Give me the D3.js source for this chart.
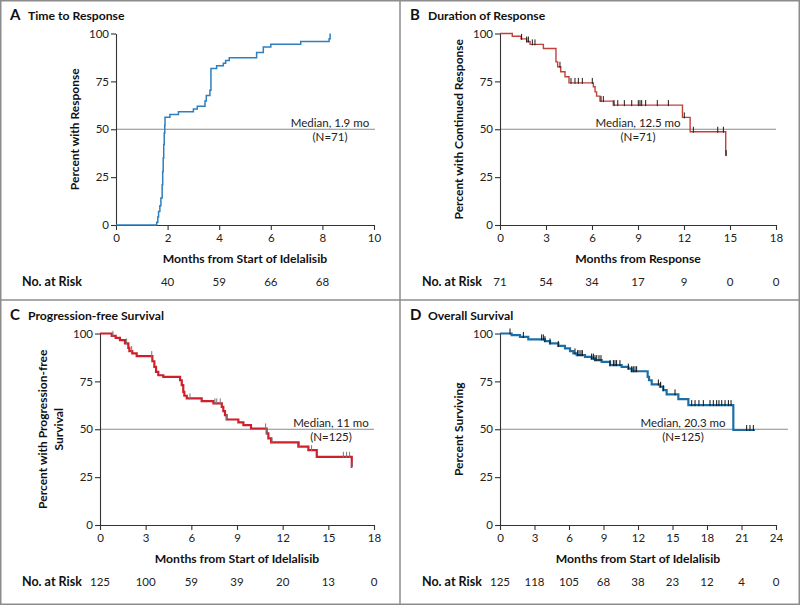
<!DOCTYPE html>
<html><head><meta charset="utf-8">
<script src="https://cdn.jsdelivr.net/npm/d3@7"></script>
<style>
body{margin:0;background:#fff;}
svg{display:block;font-family:Lato,"Open Sans",sans-serif;}
</style></head><body>
<svg id="c" width="800" height="605"></svg>
<script>
// ---------- DATA ----------
// Panel A: Time to Response (cumulative, step up)
const aTimes  = [0,1.58,1.62,1.65,1.70,1.74,1.79,1.81,1.83,1.85,1.87,1.89,1.90,2.09,2.42,3.00,3.15,3.45,3.50,3.64,3.68,3.90,4.16,4.25,4.39,5.45,5.71,6.00,7.16,8.26,8.30];
const aValues = [0,1.4,4.2,7,10,14.1,21,28,35,42,48,52,56.3,57.7,59.2,60.6,62,64.8,67.6,70.4,81.7,83.1,84.5,85.9,87.3,90.1,93,94.4,95.8,97.2,100];
const aEnd = 8.3;
const aCensor = [];
const aRiskTimes = [2,4,6,8];
const aRisk = [40,59,66,68];

// Panel B: Duration of Response
const bTimes  = [0,0.8,1.37,1.74,1.96,2.83,3.65,3.76,3.96,4.24,4.5,6.09,6.2,6.3,6.52,7.39,11.9,12.4,14.72];
const bValues = [100,98.6,97.2,95.8,94.3,92.2,85.2,82.6,80,77.4,74.2,72.2,69.5,67.3,64.7,62.6,56.2,48.7,36.5];
const bEnd = 14.75;
const bCensor = [1.41,1.74,1.85,2.11,2.28,3.91,4.63,4.89,5.11,5.37,6.02,6.59,6.74,7.44,7.68,8.11,8.59,9.02,9.13,9.24,9.5,10.26,10.98,12.02,12.61,14.2,14.57,14.75];
const bRiskTimes = [0,3,6,9,12,15,18];
const bRisk = [71,54,34,17,9,0,0];

// Panel C: Progression-free Survival
const cTimes  = [0,0.77,1.03,1.31,1.64,1.86,1.93,2.12,2.41,3.44,3.57,3.68,3.83,4.16,5.26,5.37,5.47,5.54,5.7,6.68,7.45,8.0,8.1,8.21,8.32,9.09,9.42,9.92,10.95,11.06,11.24,13.03,13.69,14.24,16.54];
const cValues = [100,98.8,97.7,96.5,94.8,92.5,90.8,89.6,88.2,85.5,82.6,80,78.2,77.4,75.6,73,69.5,67.5,66.1,64.7,63.5,61.7,59.5,57.4,55.1,53.6,52.2,50.4,47.8,45.2,43.1,40.9,39.1,35.6,30.4];
const cEnd = 16.56;
const cCensor = [0.85,1.75,2.08,3.4,5.91,7.55,7.67,7.9,8.32,10.88,10.95,11.3,13.1,13.9,15.99,16.2,16.4,16.56];
const cRiskTimes = [0,3,6,9,12,15,18];
const cRisk = [125,100,59,39,20,13,0];

// Panel D: Overall Survival
const dTimes  = [0,1.01,1.74,2.46,3.91,4.35,5.07,5.65,6.09,6.38,6.67,7.39,7.97,8.26,8.84,9.57,10.58,11.16,11.45,12.84,12.96,13.19,13.91,14.2,14.49,15.51,16.38,20.29];
const dValues = [100,99.1,98.2,96.9,96,94.8,93.5,92.2,90.8,89.6,88.7,87.8,86.9,86.1,85.2,83.5,82.6,81.7,80.3,77.4,75.6,73.4,72.2,70.4,68.2,65.7,62.6,49.6];
const dEnd = 22.17;
const dCensor = [0.87,2.03,3.62,3.77,3.91,4.35,5.07,6.52,6.75,6.87,7.04,7.16,7.97,8.12,8.26,8.41,8.61,8.78,9.57,9.86,10.0,10.14,10.43,11.16,11.45,11.59,11.74,11.88,13.77,13.97,14.2,15.22,16.67,16.96,17.3,17.68,18.26,18.55,18.84,19.04,19.28,19.57,19.86,20.09,21.45,21.74,22.03];
const dRiskTimes = [0,3,6,9,12,15,18,21,24];
const dRisk = [125,118,105,68,38,23,12,4,0];

const yTicks = [0,25,50,75,100];
const medianValue = 50;

// ---------- DRAW ----------
const svg = d3.select("#c");
svg.append("rect").attr("x",0.75).attr("y",0.75).attr("width",798.5).attr("height",603.5)
  .attr("fill","#fff").attr("stroke","#8c8c8c").attr("stroke-width",1.5);
svg.append("line").attr("x1",400).attr("x2",400).attr("y1",0).attr("y2",605).attr("stroke","#8c8c8c").attr("stroke-width",1.5);
svg.append("line").attr("x1",0).attr("x2",800).attr("y1",300).attr("y2",300).attr("stroke","#8c8c8c").attr("stroke-width",1.5);

const panels = [
 {px:0,py:0,letter:"A",title:"Time to Response",left:116,right:374,xmax:10,step:2,
  times:aTimes,values:aValues,end:aEnd,censor:aCensor,riskT:aRiskTimes,risk:aRisk,
  color:"#2f7fbf",lw:1.5,cc:"#222",xlabel:"Months from Start of Idelalisib",
  ylabel:["Percent with Response"],ylx:[74],medX:330,med:["Median, 1.9 mo","(N=71)"],medEnd:375},
 {px:400,py:0,letter:"B",title:"Duration of Response",left:500,right:776,xmax:18,step:3,
  times:bTimes,values:bValues,end:bEnd,censor:bCensor,riskT:bRiskTimes,risk:bRisk,
  color:"#c2403a",lw:1.4,cc:"#1a1a1a",xlabel:"Months from Response",
  ylabel:["Percent with Continued Response"],ylx:[458],medX:638,med:["Median, 12.5 mo","(N=71)"],medEnd:776},
 {px:0,py:300,letter:"C",title:"Progression-free Survival",left:100,right:374,xmax:18,step:3,
  times:cTimes,values:cValues,end:cEnd,censor:cCensor,riskT:cRiskTimes,risk:cRisk,
  color:"#cf1f2b",lw:2.2,cc:"#777",xlabel:"Months from Start of Idelalisib",
  ylabel:["Percent with Progression-free","Survival"],ylx:[42,58],medX:331,med:["Median, 11 mo","(N=125)"],medEnd:374},
 {px:400,py:300,letter:"D",title:"Overall Survival",left:500,right:776,xmax:24,step:3,
  times:dTimes,values:dValues,end:dEnd,censor:dCensor,riskT:dRiskTimes,risk:dRisk,
  color:"#1b6fa8",lw:2.2,cc:"#111",xlabel:"Months from Start of Idelalisib",
  ylabel:["Percent Surviving"],ylx:[458],medX:683,med:["Median, 20.3 mo","(N=125)"],medEnd:788}
];

panels.forEach(p=>{
  const top = p.py+33.5, bottom = p.py+225;
  const g = svg.append("g");
  const x = d3.scaleLinear().domain([0,p.xmax]).range([p.left,p.right]);
  const y = d3.scaleLinear().domain([0,100]).range([bottom,top]);

  g.append("text").attr("x",p.px+10).attr("y",p.py+20).attr("font-size",15).attr("font-weight",700)
    .attr("fill","#111").text(p.letter);
  g.append("text").attr("x",p.px+28).attr("y",p.py+20).attr("font-size",12.2).attr("font-weight",700)
    .attr("fill","#111").text(p.title);

  // median line
  g.append("line").attr("x1",p.left).attr("x2",p.medEnd).attr("y1",y(medianValue)).attr("y2",y(medianValue))
    .attr("stroke","#8a8a8a").attr("stroke-width",1);

  // axes
  const xa = d3.axisBottom(x).tickValues(d3.range(0,p.xmax+0.001,p.step)).tickSize(5).tickSizeOuter(0);
  const gx = g.append("g").attr("transform",`translate(0,${bottom})`).call(xa);
  const ya = d3.axisLeft(y).tickValues(yTicks).tickSize(5).tickSizeOuter(0);
  const gy = g.append("g").attr("transform",`translate(${p.left},0)`).call(ya);
  [gx,gy].forEach(a=>{
    a.select(".domain").attr("stroke","#333").attr("stroke-width",1.1);
    a.selectAll(".tick line").attr("stroke","#333").attr("stroke-width",1.1);
    a.selectAll(".tick text").attr("font-family","Lato,sans-serif").attr("font-size",11.5).attr("fill","#222");
  });
  gx.selectAll(".tick text").attr("dy",0).attr("y",17);
  gy.selectAll(".tick text").attr("x",-7);

  // KM step curve
  const pts = p.times.map((t,i)=>[t,p.values[i]]);
  pts.push([p.end,p.values[p.values.length-1]]);
  const line = d3.line().x(d=>x(d[0])).y(d=>y(d[1])).curve(d3.curveStepAfter);
  g.append("path").attr("d",line(pts)).attr("fill","none").attr("stroke",p.color)
    .attr("stroke-width",p.lw).attr("stroke-linejoin","miter");

  // censor marks
  const valAt = t=>{ let v=p.values[0]; for(let i=0;i<p.times.length;i++){ if(p.times[i]<=t+1e-9) v=p.values[i]; } return v; };
  g.selectAll("line.cen").data(p.censor).enter().append("line")
    .attr("x1",d=>x(d)).attr("x2",d=>x(d))
    .attr("y1",d=>y(valAt(d))-5).attr("y2",d=>y(valAt(d))+1)
    .attr("stroke",p.cc).attr("stroke-width",1);

  // median annotation
  g.append("text").attr("x",p.medX).attr("y",p.py+127).attr("text-anchor","middle").attr("font-size",11.5)
    .attr("fill","#222").text(p.med[0]);
  g.append("text").attr("x",p.medX).attr("y",p.py+141).attr("text-anchor","middle").attr("font-size",11.5)
    .attr("fill","#222").text(p.med[1]);

  // axis titles
  g.append("text").attr("x",(p.left+p.right)/2).attr("y",p.py+263).attr("text-anchor","middle")
    .attr("font-size",12.2).attr("font-weight",700).attr("fill","#111").text(p.xlabel);
  const yc = (top+bottom)/2;
  p.ylabel.forEach((s,i)=>{
    g.append("text").attr("transform",`translate(${p.ylx[i]},${yc}) rotate(-90)`)
      .attr("text-anchor","middle").attr("dominant-baseline","central")
      .attr("font-size",12).attr("font-weight",700).attr("fill","#111").text(s);
  });

  // number at risk
  g.append("text").attr("x",p.px+22).attr("y",p.py+286).attr("font-size",12.5).attr("font-weight",700)
    .attr("fill","#111").text("No. at Risk");
  g.selectAll("text.risk").data(p.risk).enter().append("text")
    .attr("x",(d,i)=>x(p.riskT[i])).attr("y",p.py+286).attr("text-anchor","middle")
    .attr("font-size",11.5).attr("fill","#222").text(d=>d);
});
</script></body></html>
